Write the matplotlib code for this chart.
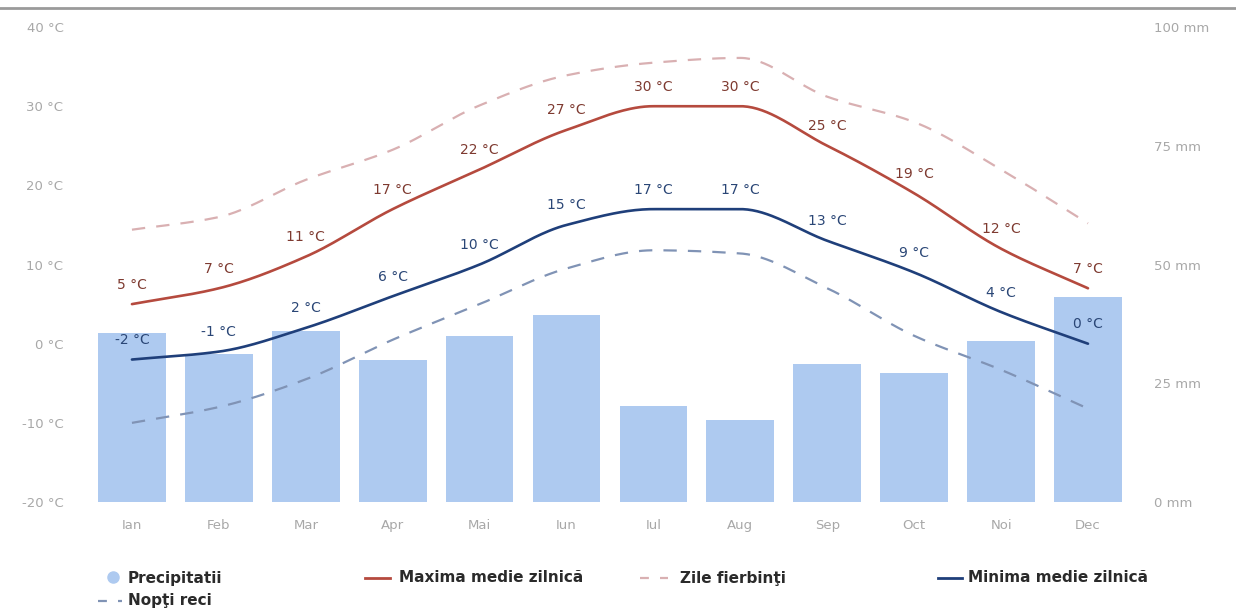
import numpy as np
import matplotlib
matplotlib.use("Agg")
import matplotlib.pyplot as plt
from matplotlib.lines import Line2D

# Monthly climate data
months = ["Ian", "Feb", "Mar", "Apr", "Mai", "Iun", "Iul", "Aug", "Sep", "Oct", "Noi", "Dec"]
precip_mm = [35.5, 31.1, 36.1, 30.0, 34.9, 39.3, 20.2, 17.2, 29.0, 27.1, 33.8, 43.1]
max_temp = [5, 7, 11, 17, 22, 27, 30, 30, 25, 19, 12, 7]
min_temp = [-2, -1, 2, 6, 10, 15, 17, 17, 13, 9, 4, 0]
hot_days = [14.4, 16.0, 20.7, 24.5, 30.1, 33.9, 35.5, 36.1, 31.2, 28.0, 22.0, 15.2]
cold_nights = [-10.0, -8.0, -4.5, 0.5, 5.0, 9.5, 11.8, 11.4, 7.0, 1.0, -3.3, -8.2]

temp_ticks = [-20, -10, 0, 10, 20, 30, 40]
mm_ticks = [0, 25, 50, 75, 100]

BAR_C = "#aecaf0"
MAX_C = "#b54a3e"
MIN_C = "#1f3f7a"
HOT_C = "#d9b0b2"
COLD_C = "#8093b5"
MAXLBL_C = "#7e3a30"
MINLBL_C = "#2a4676"
TICK_C = "#a8a8a8"


def smooth(x, y, n=400):
    """Monotone cubic (Fritsch-Carlson) curve through the points."""
    x = np.asarray(x, float)
    y = np.asarray(y, float)
    h = np.diff(x)
    d = np.diff(y) / h
    m = np.zeros_like(y)
    m[0], m[-1] = d[0], d[-1]
    for k in range(1, len(x) - 1):
        if d[k - 1] * d[k] <= 0:
            m[k] = 0.0
        else:
            w1 = 2 * h[k] + h[k - 1]
            w2 = h[k] + 2 * h[k - 1]
            m[k] = (w1 + w2) / (w1 / d[k - 1] + w2 / d[k])
    xs = np.linspace(x[0], x[-1], n)
    idx = np.clip(np.searchsorted(x, xs) - 1, 0, len(x) - 2)
    t = (xs - x[idx]) / h[idx]
    h00 = 2 * t**3 - 3 * t**2 + 1
    h10 = t**3 - 2 * t**2 + t
    h01 = -2 * t**3 + 3 * t**2
    h11 = t**3 - t**2
    ys = h00 * y[idx] + h10 * h[idx] * m[idx] + h01 * y[idx + 1] + h11 * h[idx] * m[idx + 1]
    return xs, ys


fig = plt.figure(figsize=(12.36, 6.12), dpi=100)
ax = fig.add_axes([0.0716, 0.1797, 0.8438, 0.7761])
ax2 = ax.twinx()
ax.set_zorder(ax2.get_zorder() + 1)
ax.patch.set_visible(False)

x = np.arange(len(months))

# precipitation bars on the mm axis
ax2.bar(x, precip_mm, width=0.78, color=BAR_C, zorder=1)
ax2.set_ylim(0, 100)
ax2.set_yticks(mm_ticks)
ax2.set_yticklabels([f"{v} mm" for v in mm_ticks], color=TICK_C, fontsize=9.5)

# temperature curves
xs, ys = smooth(x, hot_days)
ax.plot(xs, ys, color=HOT_C, lw=1.6, dashes=(6, 5))
xs, ys = smooth(x, cold_nights)
ax.plot(xs, ys, color=COLD_C, lw=1.6, dashes=(6, 5))
xs, ys = smooth(x, max_temp)
ax.plot(xs, ys, color=MAX_C, lw=1.9, solid_capstyle="round")
xs, ys = smooth(x, min_temp)
ax.plot(xs, ys, color=MIN_C, lw=1.9, solid_capstyle="round")

for xi, v in zip(x, max_temp):
    ax.annotate(f"{v} °C", (xi, v), xytext=(0, 9), textcoords="offset points",
                ha="center", va="bottom", fontsize=10, color=MAXLBL_C)
for xi, v in zip(x, min_temp):
    ax.annotate(f"{v} °C", (xi, v), xytext=(0, 9), textcoords="offset points",
                ha="center", va="bottom", fontsize=10, color=MINLBL_C)

ax.set_xlim(-0.5, len(months) - 0.5)
ax.set_ylim(-20, 40)
ax.set_yticks(temp_ticks)
ax.set_yticklabels([f"{v} °C" for v in temp_ticks], color=TICK_C, fontsize=9.5)
ax.set_xticks(x)
ax.set_xticklabels(months, color=TICK_C, fontsize=9.5)

for a in (ax, ax2):
    for s in a.spines.values():
        s.set_visible(False)
    a.tick_params(length=0)
ax.tick_params(axis="y", pad=18)
ax.tick_params(axis="x", pad=12)
ax2.tick_params(axis="y", pad=16)

# thin rule along the top
fig.add_artist(Line2D([0, 1], [1 - 8 / 612, 1 - 8 / 612], transform=fig.transFigure,
                      color="#9a9a9a", lw=2))


# legend row under the chart
def fx(px):
    return px / 1236


def fy(py):
    return 1 - py / 612


txt = dict(fontsize=11, color="#2a2a2a", fontweight="semibold", va="center", ha="left")
fig.add_artist(Line2D([fx(113)], [fy(577)], transform=fig.transFigure, marker="o",
                      markersize=8, color=BAR_C, linestyle="none"))
fig.text(fx(128), fy(578), "Precipitatii", **txt)

fig.add_artist(Line2D([fx(365), fx(390)], [fy(578), fy(578)], transform=fig.transFigure,
                      color=MAX_C, lw=2))
fig.text(fx(399), fy(578), "Maxima medie zilnică", **txt)

fig.add_artist(Line2D([fx(640), fx(668)], [fy(578), fy(578)], transform=fig.transFigure,
                      color=HOT_C, lw=1.6, dashes=(4, 5)))
fig.text(fx(680), fy(578), "Zile fierbinţi", **txt)

fig.add_artist(Line2D([fx(938), fx(962)], [fy(578), fy(578)], transform=fig.transFigure,
                      color=MIN_C, lw=2))
fig.text(fx(968), fy(578), "Minima medie zilnică", **txt)

fig.add_artist(Line2D([fx(98), fx(122)], [fy(601), fy(601)], transform=fig.transFigure,
                      color=COLD_C, lw=1.6, dashes=(4, 5)))
fig.text(fx(128), fy(601), "Nopţi reci", **txt)

fig.savefig("out.png", dpi=100, facecolor="white")
